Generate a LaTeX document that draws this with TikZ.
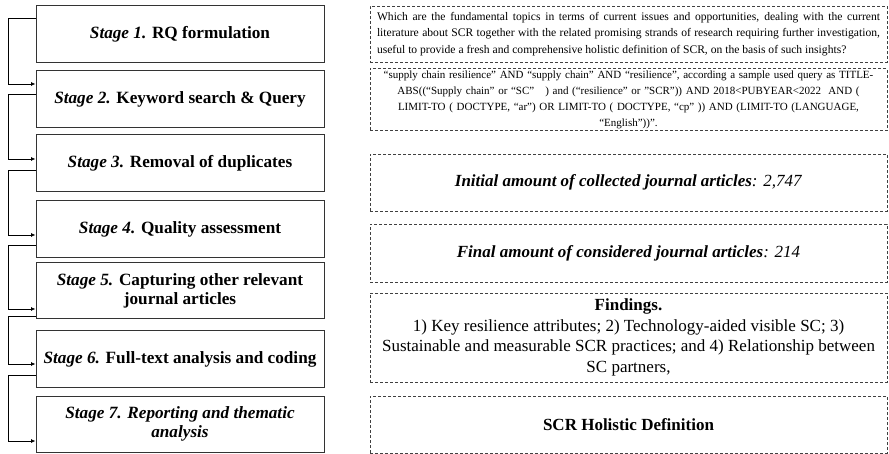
\documentclass[tikz,border=0pt]{standalone}
\usepackage{fontspec}
\setmainfont{Liberation Serif}
\usetikzlibrary{arrows.meta}
\begin{document}
\begin{tikzpicture}[x=1pt,y=-1pt,
        stage/.style={draw=black!80,line width=1pt,minimum width=288pt,minimum height=57pt,align=center,font=\fontsize{17.2}{19.5}\selectfont\bfseries,inner sep=2pt},
        info/.style={draw=black!75,line width=0.7pt,dash pattern=on 3pt off 2pt,minimum width=517pt,minimum height=57pt,align=center,inner sep=2pt},
        flow/.style={line width=0.8pt,-{Latex[length=4.5pt,width=4pt]}}]
    \useasboundingbox (0,0) rectangle (889,454);
    % stages
    \node[stage] (s1) at (180,34.5) {\textit{Stage 1.} RQ formulation};
    \node[stage] (s2) at (180,99.5) {\textit{Stage 2.} Keyword search \& Query};
    \node[stage] (s3) at (180,163.5) {\textit{Stage 3.} Removal of duplicates};
    \node[stage] (s4) at (180,229.5) {\textit{Stage 4.} Quality assessment};
    \node[stage,minimum height=56pt] (s5) at (180,291) {\textit{Stage 5.} Capturing other relevant\\journal articles};
    \node[stage,minimum height=56pt] (s6) at (180,359) {\textit{Stage 6.} Full-text analysis and coding};
    \node[stage,minimum height=56pt,font=\fontsize{17.2}{19.5}\selectfont\bfseries\itshape] (s7) at (180,424) {Stage 7. Reporting and thematic\\analysis};
    \foreach \a/\b/\u/\v in {s1/s2/16.5/15.5,s2/s3/5.5/4.5,s3/s4/-6.5/-5.5,s4/s5/-15.5/-18,s5/s6/-25/-5,s6/s7/-16/-17}
        \draw[flow] ([yshift=\u pt]\a.west) -- ++(-27,0) |- ([yshift=\v pt]\b.west);
    % right column
    \node[info,minimum height=56pt,align=justify,text width=503pt,font=\fontsize{11.6}{16.3}\selectfont] (rq) at (628.5,34) {Which are the fundamental topics in terms of current issues and opportunities, dealing with the current\linebreak literature about SCR together with the related promising strands of research requiring further investigation,\linebreak useful to provide a fresh and comprehensive holistic definition of SCR, on the basis of such insights?};
    \node[info,text width=512pt,font=\fontsize{11}{16}\selectfont] (query) at (628.5,99.5) {\mbox{“supply chain resilience" AND “supply chain" AND “resilience", according a sample used query as TITLE-}\\ABS((“Supply chain" or “SC"\ \ \ ) and (“resilience" or "SCR")) AND 2018<PUBYEAR<2022\ \ AND (\\LIMIT-TO ( DOCTYPE, “ar") OR LIMIT-TO ( DOCTYPE, “cp" )) AND (LIMIT-TO (LANGUAGE,\\“English"))".};
    \node[info,font=\fontsize{17}{19}\selectfont] (init) at (628.5,182.5) {\textbf{\textit{Initial amount of collected journal articles}}\textit{: 2,747}};
    \node[info,minimum height=58pt,font=\fontsize{17}{19}\selectfont] (final) at (628.5,253) {\textbf{\textit{Final amount of considered journal articles}}\textit{: 214}};
    \node[info,minimum height=89pt,font=\fontsize{17}{20.7}\selectfont] (find) at (628.5,337.5) {\textbf{Findings.}\\1) Key resilience attributes; 2) Technology-aided visible SC; 3)\\Sustainable and measurable SCR practices; and 4) Relationship between\\SC partners,};
    \node[info,font=\fontsize{17}{19}\selectfont\bfseries] (def) at (628.5,424.5) {SCR Holistic Definition};
\end{tikzpicture}
\end{document}
